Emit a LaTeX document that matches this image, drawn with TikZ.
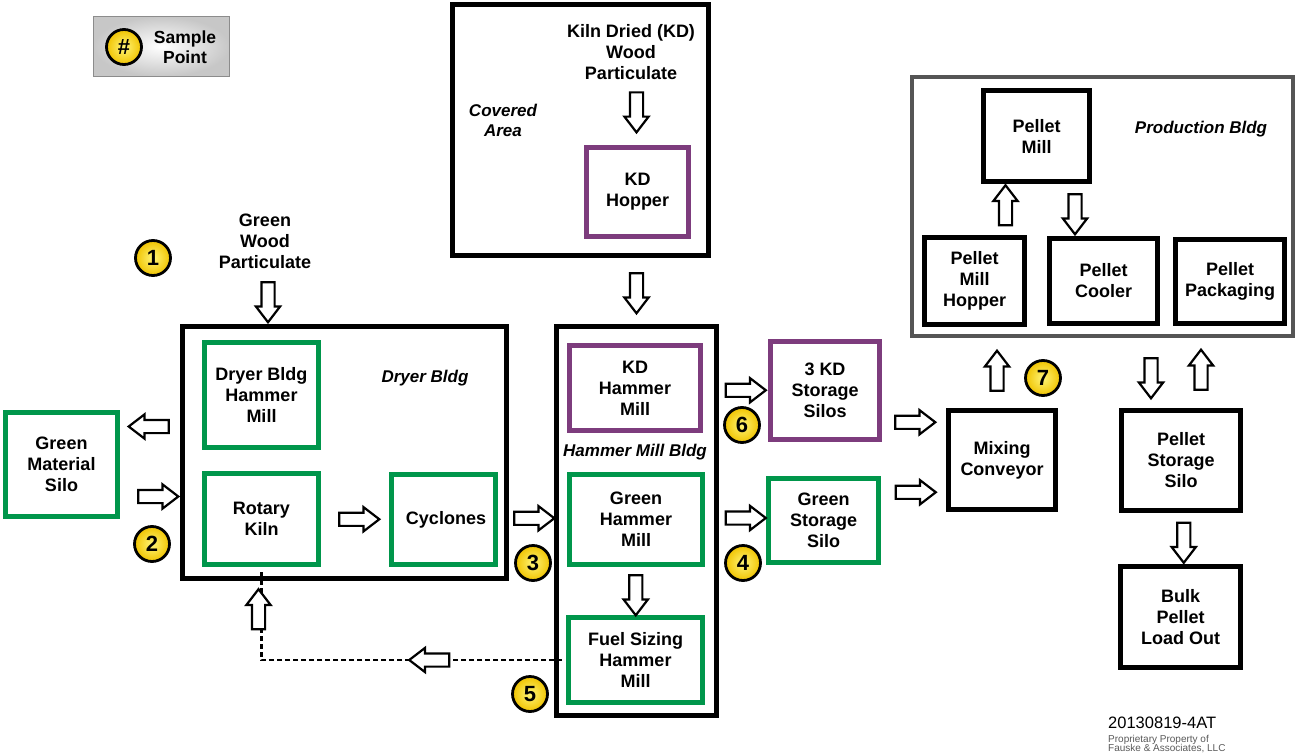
\documentclass[tikz,border=0pt]{standalone}
\usepackage{fontspec}
\setmainfont{Liberation Sans}
\usetikzlibrary{calc,positioning,shapes.arrows}
\definecolor{kdpurple}{HTML}{7D3C7D}
\definecolor{greenline}{HTML}{00964B}
\definecolor{prodgray}{HTML}{555555}
\definecolor{sampleyellow}{RGB}{240,195,0}
\definecolor{samplelight}{RGB}{255,245,120}
\tikzset{
	box/.style={draw=black, line width=5pt, align=center, font=\bfseries\fontsize{18}{21}\selectfont},
	greenbox/.style={box, draw=greenline},
	kdbox/.style={box, draw=kdpurple},
	bldg/.style={draw=black, line width=5pt},
	bldglabel/.style={align=center, font=\bfseries\itshape\fontsize{17}{20}\selectfont},
	plain/.style={align=center, font=\bfseries\fontsize{18}{21}\selectfont},
	flow/.style={single arrow, draw=black, fill=white, line width=2.2pt, minimum height=40pt, inner xsep=0pt, inner ysep=5.5pt, single arrow head extend=5.5pt, single arrow tip angle=75, rotate=#1},
	flow/.default=0,
	sample/.style={circle, draw=black, line width=2.8pt, inner color=samplelight, outer color=sampleyellow, minimum size=35pt, inner sep=0pt, font=\bfseries\fontsize{22}{22}\selectfont}
}
\begin{document}
\begin{tikzpicture}[x=1pt,y=-1pt]
\useasboundingbox (0,0) rectangle (1300,754);
% buildings
\node[bldg, minimum width=324pt, minimum height=252pt] (dryer) at (344.5,452.5) {};
\node[bldg, minimum width=256pt, minimum height=251pt] (covered) at (580.5,130) {};
\node[bldg, minimum width=160pt, minimum height=389pt] (hmb) at (636.5,521) {};
\node[bldg, draw=prodgray, line width=4pt, minimum width=381pt, minimum height=259pt] (prod) at (1102.5,206.5) {};
\node[bldglabel] (dryerlbl) at (425,378) {Dryer Bldg};
\node[bldglabel] (coveredlbl) at (503,120) {Covered\\Area};
\node[bldglabel] (hmblbl) at (635,452) {Hammer Mill Bldg};
\node[bldglabel] (prodlbl) at (1201,129) {Production Bldg};
% equipment
\node[greenbox, minimum width=112pt, minimum height=104pt] (silo) at (61.5,464.5) {Green\\Material\\Silo};
\node[greenbox, minimum width=114pt, minimum height=105pt] (dhm) at (261.5,395) {Dryer Bldg\\Hammer\\Mill};
\node[greenbox, minimum width=114pt, minimum height=91pt] (kiln) at (261.5,519) {Rotary\\Kiln};
\node[greenbox, minimum width=104pt, minimum height=90pt] (cyc) at (443.5,519.5) {\ Cyclones};
\node[kdbox, minimum width=102pt, minimum height=89pt] (hopper) at (637.5,192) {KD\\Hopper};
\node[kdbox, minimum width=131pt, minimum height=85pt] (kdhm) at (635,388) {KD\\Hammer\\Mill};
\node[greenbox, minimum width=133pt, minimum height=90pt] (ghm) at (636,519.5) {Green\\Hammer\\Mill};
\node[greenbox, minimum width=134pt, minimum height=85pt] (fuel) at (635.5,660) {Fuel Sizing\\Hammer\\Mill};
\node[kdbox, minimum width=109pt, minimum height=98pt] (kdsilos) at (825,390.5) {3 KD\\Storage\\Silos};
\node[greenbox, minimum width=110pt, minimum height=84pt] (gsilo) at (823.5,520.5) {Green\\Storage\\Silo};
\node[box, minimum width=107pt, minimum height=99pt] (mixing) at (1002,460) {Mixing\\Conveyor};
\node[box, minimum width=119pt, minimum height=100pt] (pstore) at (1181,460.5) {Pellet\\Storage\\Silo};
\node[box, minimum width=120pt, minimum height=101pt] (bulk) at (1180.5,617) {Bulk\\Pellet\\Load Out};
\node[box, minimum width=106pt, minimum height=91pt] (pmill) at (1036.5,136) {Pellet\\Mill};
\node[box, minimum width=100pt, minimum height=87pt] (phopper) at (974.5,281) {Pellet\\Mill\\Hopper};
\node[box, minimum width=108pt, minimum height=85pt] (pcooler) at (1103.5,281) {Pellet\\Cooler};
\node[box, minimum width=109pt, minimum height=84pt] (ppack) at (1230,281.5) {Pellet\\Packaging};
\node[plain] (gwp) at (265,241) {Green\\Wood\\Particulate};
\node[plain] (kdwp) at (631,52) {Kiln Dried (KD)\\Wood\\Particulate};
% fuel return
\draw[line width=2.5pt, dash pattern=on 5pt off 3pt, shorten <=4pt, shorten >=2.5pt] (fuel.west) -| (kiln.south);
% flows
\node[flow=-90] (fgwp) at ($(gwp.south)!.5!(gwp.south |- dryer.north)+(3,0)$) {};
\node[flow=180] (fsiloin) at ($($(silo.east)!.5!(dryer.west)$)+(3,-32)$) {};
\node[flow] (fsiloout) at ($($(silo.east)!.5!(dryer.west)$)+(4,38)$) {};
\node[flow] (fkiln) at ($(kiln.east)!.5!(cyc.west)$) {};
\node[flow] (fcyc) at ($(cyc.east)!.5!(hmb.west)+(4,-2)$) {};
\node[flow=-90] (fkd) at ($(hopper.north)!.5!(hopper.north |- kdwp.south)+(-1,-6)$) {};
\node[flow=-90] (fcov) at ($(hopper.south |- covered.south)!.5!(hopper.south |- hmb.north)+(-1,-2)$) {};
\node[flow] (fkdhm) at ($(hmb.east |- kdhm)!.5!(kdsilos.west)+(-2,1)$) {};
\node[flow] (fghm) at ($(hmb.east |- ghm)!.5!(gsilo.west)+(-1,-2)$) {};
\node[flow=-90] (fghmdn) at ($(ghm.south)!.5!(fuel.north)$) {};
\node[flow] (fkds) at ($(kdsilos.east)!.5!(mixing.west)+(-3,-3)$) {};
\node[flow] (fgs) at ($(gsilo.east)!.5!(mixing.west)+(-2,2)$) {};
\node[flow=90] (fmix) at ($(mixing.north)!.5!(mixing.north |- prod.south)+(-5,2)$) {};
\node[flow=90] (fphop) at ($(pmill.south)!.5!(phopper.north)$) {};
\node[flow=-90] (fpcool) at ($(pmill.south)!.5!(pcooler.north)+(5,0)$) {};
\node[flow=-90] (fpin) at ($(pstore.north)!.5!(pstore.north |- prod.south)+(-30,1)$) {};
\node[flow=90] (fpout) at ($(pstore.north)!.5!(pstore.north |- prod.south)+(20,1)$) {};
\node[flow=-90] (fbulk) at ($(pstore.south)!.5!(bulk.north)+(3,0)$) {};
\node[flow=180] (ffuel) at ($(kiln.south |- fuel.west)!.565!(fuel.west)$) {};
\node[flow=90] (ffuelup) at ($(kiln.south)!.5!(kiln.south |- fuel.west)+(-3,0)$) {};
% sample points
\node[sample] (s1) at (153,258) {1};
\node[sample] (s2) at (152,544) {2};
\node[sample] (s3) at (533,563) {3};
\node[sample] (s4) at (743,563) {4};
\node[sample] (s5) at (530,694) {5};
\node[sample] (s6) at (742,425) {6};
\node[sample] (s7) at (1043,378) {7};
% legend
\node[draw=black!45, line width=1.2pt, inner color=white, outer color=black!22, minimum width=136pt, minimum height=60pt] (legend) at (161.5,46.5) {};
\node[sample] (hash) at (124,47) {\#};
\node[plain, font=\bfseries\fontsize{17.5}{20}\selectfont] (legendtxt) at (185,47) {Sample\\Point};
% footer
\node[anchor=west, inner sep=0pt, font=\fontsize{16.5}{18}\selectfont] (docid) at (1108,723) {20130819-4AT};
\node[below right=6pt and 0pt of docid.south west, anchor=north west, inner sep=0pt, align=left, text=black!65, font=\fontsize{10}{9.5}\selectfont] (owner) {Proprietary Property of\\Fauske \& Associates, LLC};
\end{tikzpicture}
\end{document}
